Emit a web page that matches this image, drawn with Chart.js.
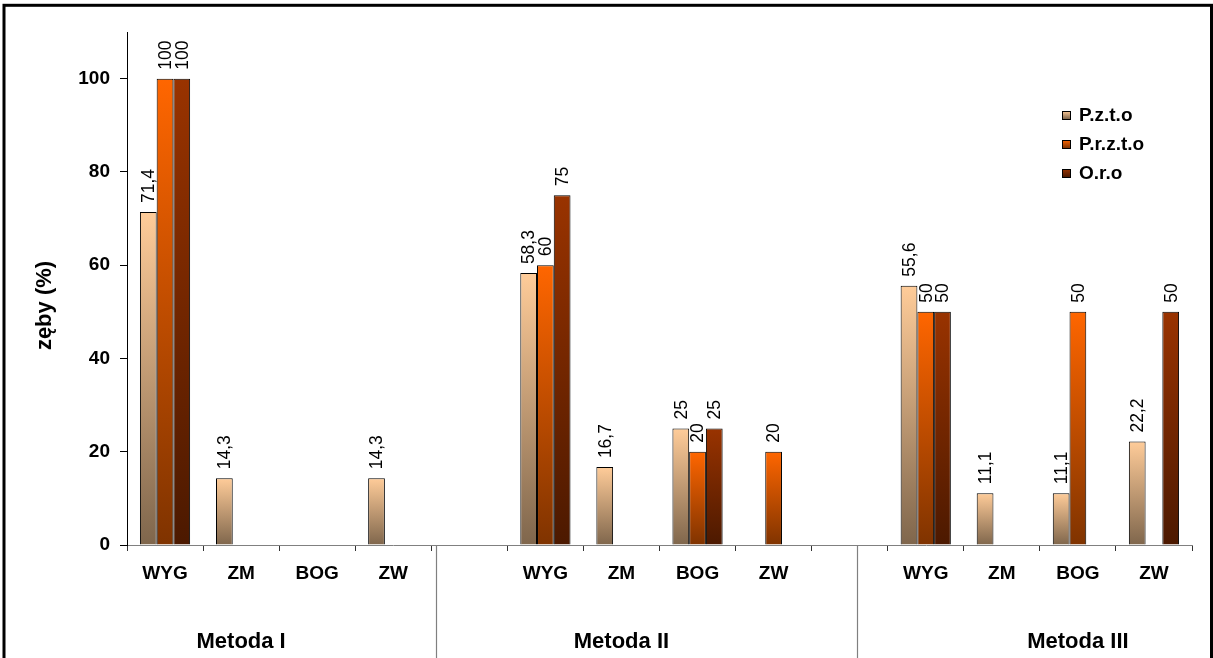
<!DOCTYPE html>
<html><head><meta charset="utf-8">
<script src="https://cdn.jsdelivr.net/npm/chart.js@4/dist/chart.umd.min.js"></script>
<style>html,body{margin:0;padding:0;background:#fff;} canvas{display:block;}</style>
</head><body>
<canvas id="c" width="1213" height="658"></canvas>
<script>
// ---- data ----
const categories = ['WYG','ZM','BOG','ZW','', 'WYG','ZM','BOG','ZW','', 'WYG','ZM','BOG','ZW'];
const groupLabels = ['', 'Metoda I', '', '', '', '', 'Metoda II', '', '', '', '', '', 'Metoda III', ''];
const seriesNames = ['P.z.t.o', 'P.r.z.t.o', 'O.r.o'];
const pzto  = [71.4, 14.3, null, 14.3, null, 58.3, 16.7, 25, null, null, 55.6, 11.1, 11.1, 22.2];
const przto = [100, null, null, null, null, 60, null, 20, 20, null, 50, null, 50, null];
const oro   = [100, null, null, null, null, 75, null, 25, null, null, 50, null, null, 50];
const yMin = 0, yMax = 110, yStep = 20;
const yTitle = 'zęby (%)';

// ---- styles ----
const topColors = ['#FFCC99', '#FF6600', '#993300'];
const bottomColors = ['#7F664C', '#7F3300', '#4C1900'];
const FONT = '"Liberation Sans", Arial, sans-serif';
Chart.defaults.font.family = FONT;
Chart.defaults.color = '#000';

function barGradient(i) {
  return function (c) {
    const chart = c.chart;
    if (c.type !== 'data' || c.raw == null) return topColors[i];
    const y = chart.scales.y;
    if (!y) return topColors[i];
    const top = y.getPixelForValue(c.raw);
    const base = y.getPixelForValue(0);
    if (!isFinite(top) || !isFinite(base) || top === base) return topColors[i];
    const g = chart.ctx.createLinearGradient(0, top, 0, base);
    g.addColorStop(0, topColors[i]);
    g.addColorStop(1, bottomColors[i]);
    return g;
  };
}

const seriesData = [pzto, przto, oro];
const datasets = seriesNames.map((name, i) => ({
  label: name,
  data: seriesData[i],
  backgroundColor: barGradient(i),
  borderColor: '#000',
  borderWidth: 1,
  categoryPercentage: 0.66,
  barPercentage: 1
}));

const sepAt = [4.06, 9.6]; // separator offsets in category units

const decor = {
  id: 'decor',
  afterDatasetsDraw(chart) {
    const ctx = chart.ctx;
    ctx.save();
    ctx.font = '17.5px ' + FONT;
    ctx.fillStyle = '#000';
    ctx.textAlign = 'left';
    ctx.textBaseline = 'middle';
    chart.data.datasets.forEach((ds, di) => {
      const meta = chart.getDatasetMeta(di);
      meta.data.forEach((bar, i) => {
        const v = ds.data[i];
        if (v == null || v === 0) return;
        const txt = String(v).replace('.', ',');
        ctx.save();
        ctx.translate(bar.x + 1, bar.y - 9);
        ctx.rotate(-Math.PI / 2);
        ctx.fillText(txt, 0, 0);
        ctx.restore();
      });
    });
    ctx.restore();
  },
  afterDraw(chart) {
    const ctx = chart.ctx;
    const xs = chart.scales.x;
    const ys = chart.scales.y;
    const w = (xs.right - xs.left) / categories.length;
    ctx.save();
    // group separators
    ctx.strokeStyle = '#808080';
    ctx.lineWidth = 1.2;
    sepAt.forEach(s => {
      const x = Math.round(xs.left + s * w) + 0.5;
      ctx.beginPath();
      ctx.moveTo(x, xs.top);
      ctx.lineTo(x, chart.height);
      ctx.stroke();
    });
    // y axis title
    ctx.save();
    ctx.font = 'bold 22px ' + FONT;
    ctx.fillStyle = '#000';
    ctx.textAlign = 'center';
    ctx.textBaseline = 'middle';
    ctx.translate(45, (ys.top + ys.bottom) / 2 + 17);
    ctx.rotate(-Math.PI / 2);
    ctx.fillText(yTitle, 0, 0);
    ctx.restore();
    // legend
    const lx = 1062, ly = [115, 144, 173], bs = 8;
    ctx.font = 'bold 19px ' + FONT;
    ctx.textAlign = 'left';
    ctx.textBaseline = 'middle';
    seriesNames.forEach((n, i) => {
      const by = ly[i] - bs / 2;
      const g = ctx.createLinearGradient(0, by, 0, by + bs);
      g.addColorStop(0, topColors[i]);
      g.addColorStop(1, bottomColors[i]);
      ctx.fillStyle = g;
      ctx.fillRect(lx, by, bs, bs);
      ctx.strokeStyle = '#000';
      ctx.lineWidth = 1;
      ctx.strokeRect(lx + 0.5, by + 0.5, bs, bs);
      ctx.fillStyle = '#000';
      ctx.fillText(n, lx + 17, ly[i] + 1);
    });
    // outer frame
    ctx.strokeStyle = '#000';
    ctx.lineWidth = 3;
    ctx.strokeRect(4, 5.3, 1207.5, 800);
    ctx.restore();
  }
};

new Chart(document.getElementById('c'), {
  type: 'bar',
  data: { labels: categories, datasets },
  options: {
    responsive: false,
    animation: false,
    layout: { padding: { top: 32, right: 21, left: 0, bottom: 0 } },
    plugins: { legend: { display: false }, tooltip: { enabled: false } },
    scales: {
      x: {
        type: 'category',
        offset: true,
        grid: { display: true, drawOnChartArea: false, drawTicks: true, tickLength: 6, color: '#333', offset: true },
        border: { display: true, color: '#808080', width: 1 },
        ticks: { font: { size: 19, weight: 'bold' }, color: '#000', padding: 11, autoSkip: false, maxRotation: 0 },
        afterFit: s => { s.height = 55; }
      },
      x2: {
        type: 'category',
        labels: groupLabels,
        offset: true,
        position: 'bottom',
        grid: { display: false },
        border: { display: false },
        ticks: { font: { size: 22, weight: 'bold' }, color: '#000', padding: 21, autoSkip: false, maxRotation: 0 },
        afterFit: s => { s.height = 58; }
      },
      y: {
        min: yMin,
        max: yMax,
        grid: { drawOnChartArea: false, tickLength: 7, color: '#000' },
        border: { display: true, color: '#000', width: 1 },
        ticks: {
          stepSize: yStep,
          font: { size: 19, weight: 'bold' },
          color: '#000',
          padding: 10,
          callback: v => (v % yStep === 0 ? v : null)
        },
        title: { display: false },
        afterFit: s => { s.width = 127; }
      }
    }
  },
  plugins: [decor]
});
</script>
</body></html>
